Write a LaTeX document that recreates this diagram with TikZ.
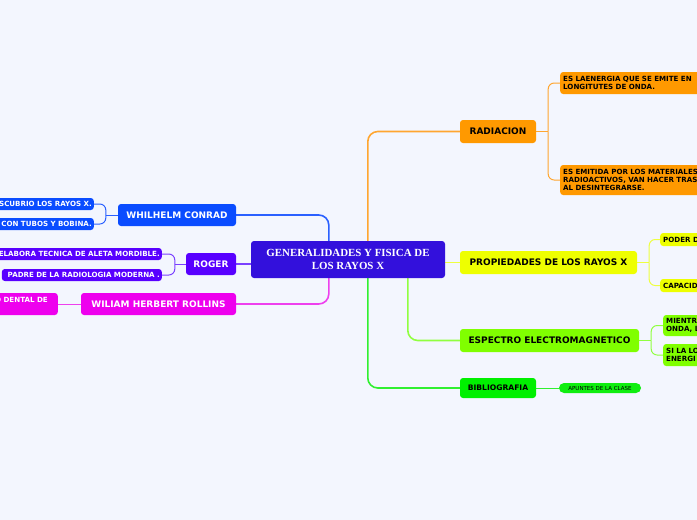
\documentclass[tikz,border=0pt]{standalone}
\usepackage{fontspec}
\setmainfont{DejaVu Sans}
\newfontfamily\serifbf{Liberation Serif}
\usetikzlibrary{backgrounds,calc}
\definecolor{bgc}{HTML}{F3F6FE}
\definecolor{cen}{HTML}{3310DC}
\definecolor{orf}{HTML}{FF9900}
\definecolor{orl}{HTML}{FFA630}
\definecolor{yef}{HTML}{EEFF00}
\definecolor{yel}{HTML}{EEFF40}
\definecolor{lif}{HTML}{80FF00}
\definecolor{lil}{HTML}{90FF40}
\definecolor{grf}{HTML}{00F000}
\definecolor{grl}{HTML}{30F030}
\definecolor{apf}{HTML}{10EE10}
\definecolor{blf}{HTML}{0A4CFF}
\definecolor{bll}{HTML}{2A60FF}
\definecolor{vif}{HTML}{5800FF}
\definecolor{vil}{HTML}{7A40FF}
\definecolor{maf}{HTML}{EE00EE}
\definecolor{mal}{HTML}{EE40EE}
\tikzset{
  box/.style={rounded corners=3pt, inner sep=0pt, align=center},
  mainfont/.style={font=\fontsize{9}{10}\selectfont\bfseries},
  kidfont/.style={font=\fontsize{7.1}{8.4}\selectfont\bfseries},
  kidL/.style={box, kidfont, anchor=west, minimum width=180pt, text width=174pt, align=left},
  kidR/.style={box, kidfont, anchor=east, align=right},
  mline/.style={line width=1.6pt, rounded corners=10pt},
  kline/.style={line width=1pt, rounded corners=6pt},
}
\begin{document}
\begin{tikzpicture}[x=1pt,y=-1pt]
\path[use as bounding box] (0,0) rectangle (697,520);
\clip (0,0) rectangle (697,520);
\begin{pgfonlayer}{background}
\fill[bgc] (0,0) rectangle (697,520);
\end{pgfonlayer}

% central node
\node[box, fill=cen, text=white, minimum width=194pt, minimum height=37pt,
  font=\serifbf\fontsize{10.9}{12.5}\selectfont\bfseries] (c) at (348,259.5)
  {GENERALIDADES Y FISICA DE\\LOS RAYOS X};

% right main branches
\node[box, mainfont, fill=orf, minimum width=76pt, minimum height=23pt] (rad) at (498,131.5) {RADIACION};
\node[box, mainfont, fill=yef, minimum width=177pt, minimum height=23pt] (prop) at (548.5,262.5) {PROPIEDADES DE LOS RAYOS X};
\node[box, mainfont, fill=lif, minimum width=179pt, minimum height=23pt] (esp) at (549.5,340.5) {ESPECTRO ELECTROMAGNETICO};
\node[box, font=\fontsize{7.6}{9}\selectfont\bfseries, fill=grf, minimum width=76pt, minimum height=20pt] (bib) at (498,388) {BIBLIOGRAFIA};
\node[box, rounded corners=5pt, fill=apf, minimum width=82pt, minimum height=10pt,
  font=\fontsize{5.5}{6}\selectfont] (apu) at (600,388) {APUNTES DE LA CLASE};

% left main branches
\node[box, mainfont, fill=blf, text=white, minimum width=118pt, minimum height=22pt] (whil) at (177,215) {WHILHELM CONRAD};
\node[box, mainfont, fill=vif, text=white, minimum width=50pt, minimum height=22pt] (rog) at (211,264) {ROGER};
\node[box, mainfont, fill=maf, text=white, minimum width=155pt, minimum height=22pt] (rol) at (158.5,304) {WILIAM HERBERT ROLLINS};

% right children
\node[kidL, fill=orf, minimum height=22pt] (r1) at (560,83) {ES LAENERGIA QUE SE EMITE EN\\LONGITUTES DE ONDA.};
\node[kidL, fill=orf, minimum height=30pt] (r2) at (560,180) {ES EMITIDA POR LOS MATERIALES\\RADIOACTIVOS, VAN HACER TRAS\\AL DESINTEGRARSE.};
\node[kidL, fill=yef, minimum height=13pt] (p1) at (660,239.5) {PODER D};
\node[kidL, fill=yef, minimum height=13pt] (p2) at (660,285.5) {CAPACID};
\node[kidL, fill=lif, minimum height=21pt] (e1) at (663,325.5) {MIENTR\\ONDA, L};
\node[kidL, fill=lif, minimum height=22pt] (e2) at (663,355) {SI LA LO\\ENERGI};

% left children
\node[kidR, fill=blf, text=white, minimum width=150pt, text width=146pt, minimum height=12pt] (w1) at (94,204) {DESCUBRIO LOS RAYOS X.};
\node[kidR, fill=blf, text=white, minimum width=150pt, text width=146pt, minimum height=12pt] (w2) at (94,224) {CON TUBOS Y BOBINA.};
\node[kidR, fill=vif, text=white, minimum width=190pt, text width=186pt, minimum height=12pt] (g1) at (162,254) {ELABORA TECNICA DE ALETA MORDIBLE.};
\node[kidR, fill=vif, text=white, minimum width=160pt, text width=156pt, minimum height=12pt] (g2) at (162,275) {PADRE DE LA RADIOLOGIA MODERNA .};
\node[box, fill=maf, minimum width=90pt, minimum height=22pt, anchor=east] (m1) at (58,304) {};
\node[kidfont, text=white, anchor=north east, inner sep=0pt] (m1t) at ($(m1.north east)+(-10,4)$) {O DENTAL DE};

% connectors
\begin{pgfonlayer}{background}
\draw[mline, orl] ($(c.north west)+(117,0)$) |- (rad.west);
\draw[mline, yel] (c.east |- prop.west) -- (prop.west);
\draw[mline, lil] ($(c.south west)+(157,0)$) |- (esp.west);
\draw[mline, grl] ($(c.south west)+(117,0)$) |- (bib.west);
\draw[mline, bll] ($(c.north west)+(78,0)$) |- (whil.east);
\draw[mline, vil] (c.west |- rog.east) -- (rog.east);
\draw[mline, mal] ($(c.south west)+(78,0)$) |- (rol.east);

\draw[kline, orl] (rad.east) -- ++(12,0) coordinate (jr);
\draw[kline, orl] (jr) |- (r1.west);
\draw[kline, orl] (jr) |- (r2.west);
\draw[kline, yel] (prop.east) -- ++(12,0) coordinate (jp);
\draw[kline, yel] (jp) |- (p1.west);
\draw[kline, yel] (jp) |- (p2.west);
\draw[kline, lil] (esp.east) -- ++(12,0) coordinate (je);
\draw[kline, lil] (je) |- (e1.west);
\draw[kline, lil] (je) |- (e2.west);
\draw[kline, grl] (bib.east) -- (apu.west);
\draw[kline, bll] (whil.west) -- ++(-12,0) coordinate (jw);
\draw[kline, bll] (jw) |- (w1.east);
\draw[kline, bll] (jw) |- (w2.east);
\draw[kline, vil] (rog.west) -- ++(-11,0) coordinate (jg);
\draw[kline, vil] (jg) |- (g1.east);
\draw[kline, vil] (jg) |- (g2.east);
\draw[kline, mal] (rol.west) -- (m1.east);
\end{pgfonlayer}
\end{tikzpicture}
\end{document}
